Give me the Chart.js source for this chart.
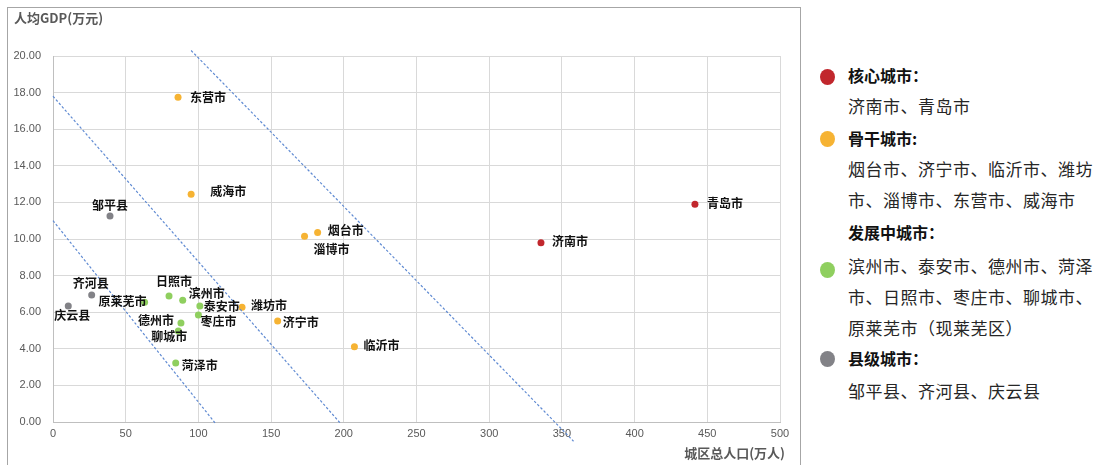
<!DOCTYPE html>
<html>
<head>
<meta charset="utf-8">
<script src="https://cdn.jsdelivr.net/npm/chart.js@4"></script>
<style>
  body { margin: 0; background: #fff; font-family: "Noto Sans CJK SC", "Noto Sans", sans-serif; }
  #frame { position: absolute; left: 7px; top: 7px; width: 792px; height: 458px; border: 1px solid #a6a6a6; border-bottom: none; }
  .lg { position: absolute; left: 848px; white-space: nowrap; line-height: 1; transform: translateY(-50%); }
  .head { font-size: 16px; font-weight: bold; color: #111; }
  .body { font-size: 17px; color: #262626; letter-spacing: 0.5px; }
  .dot { position: absolute; left: 820px; width: 15px; height: 16px; border-radius: 50%; transform: translateY(-50%); }
</style>
</head>
<body>
<div id="frame"><canvas id="chart"></canvas></div>

<div class="dot" style="top:77px;background:#c1272d"></div>
<div class="lg head" style="top:75px">核心城市：</div>
<div class="lg body" style="top:105px">济南市、青岛市</div>
<div class="dot" style="top:139px;background:#f6b333"></div>
<div class="lg head" style="top:138px">骨干城市:</div>
<div class="lg body" style="top:168px">烟台市、济宁市、临沂市、潍坊</div>
<div class="lg body" style="top:199px">市、淄博市、东营市、威海市</div>
<div class="lg head" style="top:232px">发展中城市：</div>
<div class="dot" style="top:270px;background:#8fcf5f"></div>
<div class="lg body" style="top:265px">滨州市、泰安市、德州市、菏泽</div>
<div class="lg body" style="top:296px">市、日照市、枣庄市、聊城市、</div>
<div class="lg body" style="top:327px">原莱芜市（现莱芜区）</div>
<div class="dot" style="top:359px;background:#828287"></div>
<div class="lg head" style="top:358px">县级城市：</div>
<div class="lg body" style="top:390px">邹平县、齐河县、庆云县</div>

<script>
// 城区总人口(万人) / 人均GDP(万元)
const coreNames = ["济南市", "青岛市"];
const corePop = [335.6, 441.5];
const coreGdp = [9.8, 11.9];

const keyNames = ["烟台市", "济宁市", "临沂市", "潍坊市", "淄博市", "东营市", "威海市"];
const keyPop = [182, 154.5, 207.3, 130, 173, 86, 95];
const keyGdp = [10.35, 5.52, 4.11, 6.27, 10.15, 17.75, 12.45];

const devNames = ["滨州市", "泰安市", "德州市", "菏泽市", "日照市", "枣庄市", "聊城市", "原莱芜市"];
const devPop = [89.2, 101, 88, 84.4, 79.8, 100, 86.2, 63];
const devGdp = [6.65, 6.34, 5.41, 3.22, 6.89, 5.85, 4.97, 6.55];

const countyNames = ["邹平县", "齐河县", "庆云县"];
const countyPop = [39.2, 26.6, 10.5];
const countyGdp = [11.26, 6.94, 6.34];

// dashed divider lines
const line1X = [0, 112];
const line1Y = [11, -0.1];
const line2X = [0, 198];
const line2Y = [17.8, -0.1];
const line3X = [95, 358];
const line3Y = [20.3, -1.05];

// label placement (offset of label's left/middle from the point, px)
const labelOffset = {
  "东营市": [12, 0], "威海市": [19, -3], "邹平县": [-18, -11], "烟台市": [10, -2],
  "淄博市": [9, 13], "济南市": [11, -1], "青岛市": [12, -1], "齐河县": [-19, -12],
  "庆云县": [-14, 9], "原莱芜市": [-46, -1], "日照市": [-13, -14], "滨州市": [6, -7],
  "泰安市": [4, 0], "潍坊市": [9, -2], "枣庄市": [2, 6], "德州市": [-43, -3],
  "聊城市": [-27, 5], "济宁市": [5, 1], "临沂市": [9, -1], "菏泽市": [6, 2],
};

function toPoints(xs, ys) {
  return xs.map((x, i) => ({ x: x, y: ys[i] }));
}

function pointSet(names, xs, ys, color) {
  return {
    type: "scatter",
    names: names,
    data: toPoints(xs, ys),
    backgroundColor: color,
    borderColor: color,
    pointRadius: 3.5,
    borderWidth: 0,
  };
}

function dashSet(xs, ys) {
  return {
    type: "line",
    data: toPoints(xs, ys),
    borderColor: "#5f8ad2",
    borderWidth: 1.2,
    borderDash: [2.5, 2],
    pointRadius: 0,
    fill: false,
    clip: false,
  };
}

const labelPlugin = {
  id: "labels",
  afterDatasetsDraw(chart) {
    const ctx = chart.ctx;
    ctx.save();
    ctx.font = "bold 12px 'Noto Sans CJK SC'";
    ctx.fillStyle = "#111";
    ctx.textBaseline = "middle";
    ctx.textAlign = "left";
    chart.data.datasets.forEach((ds, di) => {
      if (!ds.names) return;
      const meta = chart.getDatasetMeta(di);
      meta.data.forEach((el, i) => {
        const off = labelOffset[ds.names[i]] || [8, 0];
        ctx.fillText(ds.names[i], el.x + off[0], el.y + off[1]);
      });
    });
    // axis titles
    ctx.font = "bold 13px 'Noto Sans CJK SC'";
    ctx.fillStyle = "#595959";
    ctx.fillText("人均GDP(万元)", 6, 10);
    ctx.textAlign = "right";
    ctx.fillText("城区总人口(万人)", 777, 445);
    ctx.restore();
  },
};

const tickFont = { family: "'Liberation Sans', sans-serif", size: 11 };

new Chart(document.getElementById("chart"), {
  type: "scatter",
  data: {
    datasets: [
      dashSet(line1X, line1Y),
      dashSet(line2X, line2Y),
      dashSet(line3X, line3Y),
      pointSet(coreNames, corePop, coreGdp, "#c1272d"),
      pointSet(keyNames, keyPop, keyGdp, "#f6b333"),
      pointSet(devNames, devPop, devGdp, "#8fcf5f"),
      pointSet(countyNames, countyPop, countyGdp, "#828287"),
    ],
  },
  options: {
    responsive: true,
    maintainAspectRatio: false,
    animation: false,
    layout: { padding: { top: 48, right: 20, left: 0, bottom: 0 } },
    plugins: { legend: { display: false }, tooltip: { enabled: false } },
    scales: {
      x: {
        type: "linear",
        min: 0,
        max: 500,
        afterFit: (s) => { s.height = 44; },
        ticks: { stepSize: 50, color: "#595959", font: tickFont, padding: 5, maxRotation: 0 },
        grid: { color: "#d9d9d9", drawTicks: false },
        border: { color: "#bfbfbf" },
      },
      y: {
        min: 0,
        max: 20,
        afterFit: (s) => { s.width = 45; },
        ticks: { stepSize: 2, color: "#595959", font: tickFont, padding: 12, callback: (v) => v.toFixed(2) },
        grid: { color: "#d9d9d9", drawTicks: false },
        border: { color: "#bfbfbf" },
      },
    },
  },
  plugins: [labelPlugin],
});
</script>
</body>
</html>
